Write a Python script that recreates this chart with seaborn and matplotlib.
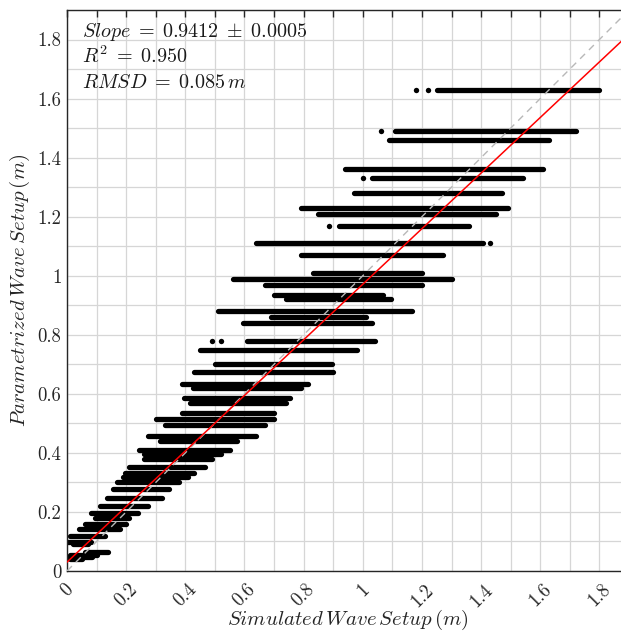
import numpy as np
import pandas as pd
import matplotlib
matplotlib.use("Agg")
import matplotlib.pyplot as plt
import seaborn as sns
from matplotlib.ticker import MultipleLocator, FuncFormatter

# Horizontal bands of simulated-vs-parametrized points (y level, x start, x end)
band_y = [1.63, 1.49, 1.46, 1.36, 1.33, 1.28, 1.23, 1.21, 1.17, 1.11,
          1.07, 1.01, 0.99, 0.97, 0.935, 0.92, 0.88, 0.86, 0.84, 0.78,
          0.75, 0.70, 0.675, 0.634, 0.62, 0.586, 0.57, 0.536, 0.515, 0.495,
          0.458, 0.44, 0.41, 0.397, 0.38, 0.353, 0.332, 0.32, 0.30, 0.278,
          0.247, 0.22, 0.197, 0.18, 0.16, 0.142, 0.12, 0.098, 0.09, 0.064,
          0.055, 0.047, 0.04]
band_x0 = [1.25, 1.11, 1.09, 0.94, 1.03, 0.97, 0.79, 0.85, 0.92, 0.64,
           0.79, 0.83, 0.56, 0.67, 0.70, 0.74, 0.51, 0.69, 0.595, 0.61,
           0.45, 0.50, 0.43, 0.39, 0.425, 0.395, 0.415, 0.39, 0.30, 0.33,
           0.275, 0.315, 0.245, 0.26, 0.26, 0.21, 0.195, 0.19, 0.17, 0.155,
           0.135, 0.11, 0.08, 0.095, 0.06, 0.04, 0.01, 0.00, 0.02, 0.06,
           0.01, 0.00, 0.01]
band_x1 = [1.80, 1.72, 1.63, 1.61, 1.54, 1.47, 1.49, 1.45, 1.36, 1.405,
           1.27, 1.20, 1.30, 1.20, 1.07, 1.095, 1.165, 1.01, 1.03, 1.04,
           0.98, 0.895, 0.90, 0.815, 0.79, 0.755, 0.74, 0.70, 0.70, 0.67,
           0.64, 0.575, 0.55, 0.52, 0.49, 0.465, 0.43, 0.41, 0.38, 0.345,
           0.32, 0.275, 0.24, 0.21, 0.20, 0.18, 0.13, 0.08, 0.07, 0.14,
           0.10, 0.085, 0.05]

# isolated points
dot_x = [1.18, 1.22, 1.06, 1.00, 0.885, 1.43, 0.49, 0.52]
dot_y = [1.63, 1.63, 1.49, 1.33, 1.17, 1.11, 0.78, 0.78]

slope = 0.9412
intercept = 0.03
axis_max = 1.9
tick_step = 0.1

sns.set_style("white")
plt.rcParams.update({
    "font.family": "serif",
    "font.serif": ["cmr10"],
    "mathtext.fontset": "cm",
    "axes.unicode_minus": False,
    "axes.formatter.use_mathtext": True,
})

fig = plt.figure(figsize=(6.21, 6.33), dpi=100)
ax = fig.add_axes([67 / 621, 62 / 633, 562 / 621, 561 / 633])

rows = []
for i, (y, a, b) in enumerate(zip(band_y, band_x0, band_x1)):
    rows.append({"band": i, "x": a, "y": y})
    rows.append({"band": i, "x": b, "y": y})
df = pd.DataFrame(rows)

sns.lineplot(data=df, x="x", y="y", units="band", estimator=None, sort=False,
             color="black", lw=3.8, solid_capstyle="round", ax=ax, legend=False)
sns.scatterplot(x=dot_x, y=dot_y, color="black", s=15, linewidth=0, ax=ax)

# 1:1 line and fit line
one_x = [0, axis_max]
ax.plot(one_x, one_x, color="#b8b8b8", lw=1.0, dashes=(5, 4), zorder=3)
fit_y = [slope * v + intercept for v in one_x]
sns.lineplot(x=one_x, y=fit_y, color="red", lw=1.1, ax=ax, zorder=4)

ax.set_xlim(0, axis_max)
ax.set_ylim(0, axis_max)

fmt = FuncFormatter(lambda v, p: ("%g" % round(v, 1)) if round(v * 10) % 2 == 0 else "")
for axis in (ax.xaxis, ax.yaxis):
    axis.set_major_locator(MultipleLocator(tick_step))
    axis.set_major_formatter(fmt)
ax.grid(True, which="major", color="#d6d6d6", lw=0.9)
ax.set_axisbelow(True)
ax.tick_params(which="both", direction="in", top=True, right=True,
               length=5, width=1, colors="#262626", labelsize=13.5, pad=4)
ax.tick_params(axis="x", pad=7)
for lab in ax.get_xticklabels():
    lab.set_rotation(45)
    lab.set_ha("center")
for sp in ax.spines.values():
    sp.set_color("#262626")
    sp.set_linewidth(1.0)

ax.set_xlabel(r"$Simulated\,Wave\,Setup\,(m)$", fontsize=15, color="#262626")
ax.set_ylabel(r"$Parametrized\,Wave\,Setup\,(m)$", fontsize=15, color="#262626")
ax.xaxis.set_label_coords(0.5, -0.066)
ax.xaxis.label.set_va("top")
ax.yaxis.set_label_coords(-0.062, 0.5)

tx = 0.05
ax.text(tx, 1.827, r"$Slope\;=\;0.9412\;\pm\;0.0005$", fontsize=14.5, va="center", color="#1a1a1a")
ax.text(tx, 1.742, r"$R^2\;=\;0.950$", fontsize=14.5, va="center", color="#1a1a1a")
ax.text(tx, 1.654, r"$RMSD\;=\;0.085\,m$", fontsize=14.5, va="center", color="#1a1a1a")

fig.savefig("out.png", dpi=100)
